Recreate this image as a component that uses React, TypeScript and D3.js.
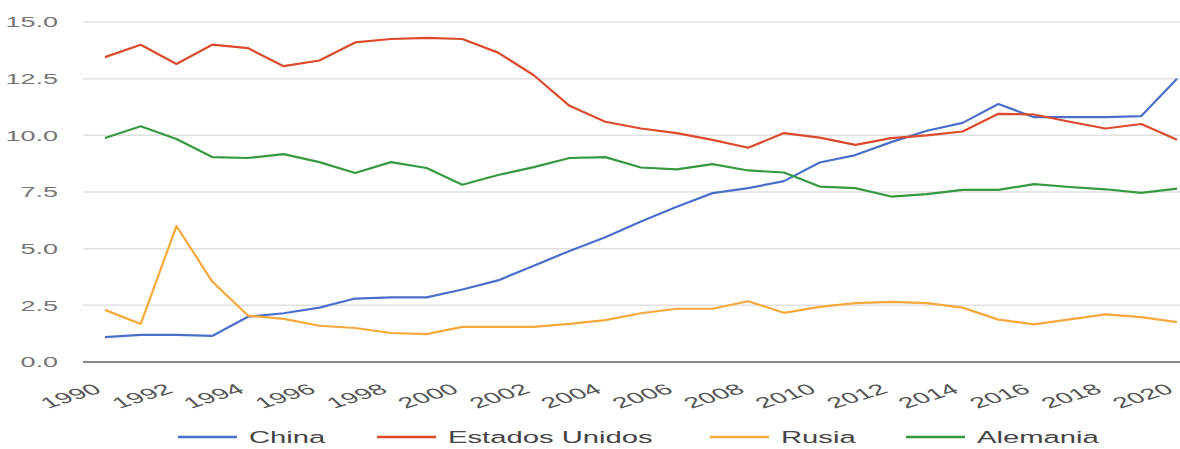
import React from 'react';
import * as d3 from 'd3';

// years 1990..2020
const years = d3.range(1990, 2021);

const china = [1.1, 1.2, 1.2, 1.15, 2.0, 2.15, 2.4, 2.8, 2.85, 2.85, 3.2, 3.6, 4.25, 4.9, 5.5, 6.2, 6.85, 7.45, 7.67, 7.98, 8.8, 9.13, 9.7, 10.2, 10.55, 11.38, 10.8, 10.8, 10.8, 10.85, 12.5];
const estadosUnidos = [13.45, 14.0, 13.15, 14.0, 13.85, 13.05, 13.3, 14.1, 14.25, 14.3, 14.25, 13.65, 12.65, 11.3, 10.6, 10.3, 10.1, 9.8, 9.45, 10.1, 9.9, 9.58, 9.88, 10.0, 10.17, 10.95, 10.92, 10.6, 10.3, 10.5, 9.8];
const rusia = [2.3, 1.68, 6.0, 3.55, 2.05, 1.9, 1.6, 1.5, 1.28, 1.23, 1.55, 1.55, 1.55, 1.68, 1.85, 2.15, 2.35, 2.35, 2.68, 2.17, 2.43, 2.6, 2.65, 2.6, 2.4, 1.87, 1.66, 1.88, 2.1, 1.98, 1.76];
const alemania = [9.88, 10.4, 9.84, 9.04, 9.0, 9.17, 8.82, 8.34, 8.82, 8.56, 7.82, 8.25, 8.6, 9.0, 9.04, 8.58, 8.5, 8.73, 8.45, 8.36, 7.74, 7.67, 7.3, 7.41, 7.59, 7.59, 7.85, 7.72, 7.62, 7.46, 7.65];

const seriesNames = ['China', 'Estados Unidos', 'Rusia', 'Alemania'];
const seriesColors = ['#4a6fca', '#dc4a2c', '#f6a93a', '#35993f'];
const yTicks = [0, 2.5, 5, 7.5, 10, 12.5, 15];
const xTicks = d3.range(1990, 2021, 2);

const W = 1180;
const H = 449;
const FONT = 'Liberation Sans, Arial, sans-serif';
// the source picture is stretched sideways, so text is too
const SX = 1.8;

export default function App() {
  const x = d3.scaleLinear().domain([1990, 2020]).range([105, 1177]);
  const y = d3.scaleLinear().domain([0, 15]).range([362, 22]);

  const allSeries = [china, estadosUnidos, rusia, alemania];
  const line = d3.line<number>()
    .x((_, i) => x(years[i]))
    .y(d => y(d));

  const legendLineX = [178, 377, 710, 906];

  return (
    <svg width={W} height={H} style={{ position: 'absolute', left: 0, top: 0, background: '#fff' }}>
      {yTicks.map(t => (
        <g key={t}>
          <line x1={83} x2={W} y1={y(t)} y2={y(t)}
            stroke={t === 0 ? '#8a8a8a' : '#e0e0e0'} strokeWidth={t === 0 ? 2 : 1.5} />
          <text transform={`translate(58,${y(t)}) scale(${SX},1)`} dy="0.36em" textAnchor="end"
            fontFamily={FONT} fontSize={15} fill="#757575">{t.toFixed(1)}</text>
        </g>
      ))}

      {xTicks.map(t => (
        <text key={t} transform={`translate(${x(t) - 2},392) scale(1.9,1) rotate(-30)`} textAnchor="end"
          fontFamily={FONT} fontSize={15} fill="#555">{t}</text>
      ))}

      {allSeries.map((s, i) => (
        <path key={seriesNames[i]} d={line(s) || ''} fill="none" stroke={seriesColors[i]}
          strokeWidth={2.2} strokeLinejoin="round" />
      ))}

      {seriesNames.map((n, i) => (
        <g key={n}>
          <line x1={legendLineX[i]} x2={legendLineX[i] + 59} y1={437} y2={437}
            stroke={seriesColors[i]} strokeWidth={2.5} />
          <text transform={`translate(${legendLineX[i] + 71},437) scale(1.72,1)`} dy="0.36em"
            fontFamily={FONT} fontSize={17} fill="#444">{n}</text>
        </g>
      ))}
    </svg>
  );
}
